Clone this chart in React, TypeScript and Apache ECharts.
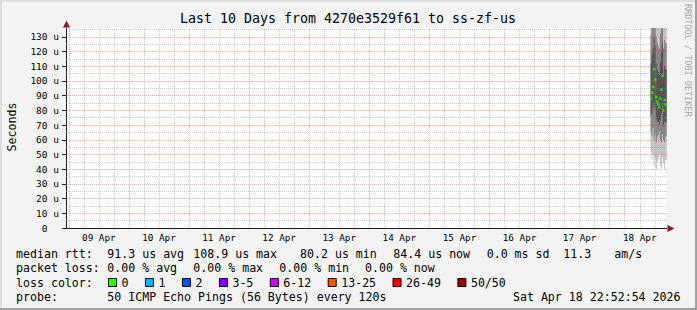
import React, { useEffect, useRef } from 'react';
import * as echarts from 'echarts';

// ---------------- data ----------------
const TITLE = 'Last 10 Days from 4270e3529f61 to ss-zf-us';
const Y_NAME = 'Seconds';
const WATERMARK = 'RRDTOOL / TOBI OETIKER';

// x axis: hours since 08 Apr 22:52:54 (range = last 10 days)
const xRange = [0, 240];
const firstMidnightHour = 1.1183; // 09 Apr 00:00:00
const dayLabels = ['09 Apr', '10 Apr', '11 Apr', '12 Apr', '13 Apr', '14 Apr', '15 Apr', '16 Apr', '17 Apr', '18 Apr'];

// y axis (microseconds)
const yRange = [0, 136];
const yTickValues = [0, 10, 20, 30, 40, 50, 60, 70, 80, 90, 100, 110, 120, 130];
const yMinorValues = [5, 15, 25, 35, 45, 55, 65, 75, 85, 95, 105, 115, 125, 135];

// smoke columns (hours since range start) and ping distribution (us)
const smokeTimes = [233.6, 234.0, 234.45, 234.9, 235.3, 235.7, 236.15, 236.55, 236.95, 237.4, 237.8, 238.2, 238.6, 239.05, 239.45];
const smokeMin = [52, 46, 50, 42, 48, 40, 45, 47, 50, 43, 41, 48, 44, 40, 46];
const smokeP10 = [66, 62, 68, 60, 64, 58, 62, 63, 66, 60, 58, 64, 60, 58, 62];
const smokeP25 = [76, 78, 82, 84, 80, 74, 72, 72, 70, 74, 78, 84, 70, 72, 72];
const smokeP75 = [112, 118, 122, 130, 124, 112, 108, 106, 104, 112, 120, 126, 104, 110, 108];
const smokeP90 = [132, 138, 140, 148, 142, 130, 126, 124, 122, 132, 140, 146, 122, 128, 126];
const smokeMax = [160, 170, 165, 180, 170, 158, 155, 150, 152, 165, 172, 178, 150, 160, 155];
const medianRtt = [88, 92, 96, 108, 101, 89, 86, 84, 82, 88, 94, 103.5, 80, 87, 84];

// legend texts
const rttStats = ['91.3 us avg', '108.9 us max', '80.2 us min', '84.4 us now', '0.0 ms sd', '11.3', 'am/s'];
const lossStats = ['0.00 % avg', '0.00 % max', '0.00 % min', '0.00 % now'];
const lossLabels = ['0', '1', '2', '3-5', '6-12', '13-25', '26-49', '50/50'];
const lossColors = ['#26ff00', '#00b8ff', '#0059ff', '#7e00ff', '#dd00ff', '#ff5500', '#ff0000', '#a10000'];
const probeText = '50 ICMP Echo Pings (56 Bytes) every 120s';
const stampText = 'Sat Apr 18 22:52:54 2026';

// ---------------- layout ----------------
const FONT = 'DejaVu Sans Mono';
const LEG_FS = 11.6;
const CHAR_W = 6.97;
const lineY = [253.5, 268, 282.5, 296.5];
const rttStatX = [107.3, 193.3, 300, 393.3, 486.7, 563.3, 614.3];
const lossStatX = [107.3, 193.3, 279.3, 365];
const RED_GRID = 'rgba(235,60,60,0.42)';
const GRAY_GRID = 'rgba(140,140,140,0.45)';

export default function App() {
  const ref = useRef<HTMLDivElement>(null);

  useEffect(() => {
    if (!ref.current) return;
    const chart = echarts.init(ref.current, null, { renderer: 'svg' });

    const majorX = dayLabels.map((_, i) => firstMidnightHour + 24 * i);
    const noonX = dayLabels.map((_, i) => firstMidnightHour + 12 + 24 * i);
    const minorX: number[] = [];
    for (let h = firstMidnightHour; h < xRange[1]; h += 6) {
      if (Math.round((h - firstMidnightHour) / 6) % 4 !== 0) minorX.push(h);
    }

    const gridLines: any[] = [];
    minorX.forEach((v) => gridLines.push({ xAxis: v, lineStyle: { color: GRAY_GRID, type: [1, 1], width: 1 } }));
    yMinorValues.forEach((v) => gridLines.push({ yAxis: v, lineStyle: { color: GRAY_GRID, type: [1, 1], width: 1 } }));
    majorX.forEach((v) => gridLines.push({ xAxis: v, lineStyle: { color: RED_GRID, type: [1, 1], width: 1 } }));
    yTickValues.filter((v) => v > 0).forEach((v) => gridLines.push({ yAxis: v, lineStyle: { color: RED_GRID, type: [1, 1], width: 1 } }));

    const n = smokeTimes.length;
    const smokeData = smokeTimes.map((t, i) => {
      const left = i === 0 ? t - 0.2 : (smokeTimes[i - 1] + t) / 2;
      const right = i === n - 1 ? t + 0.45 : (t + smokeTimes[i + 1]) / 2;
      return [left, right, smokeMin[i], smokeP10[i], smokeP25[i], smokeP75[i], smokeP90[i], smokeMax[i]];
    });

    const renderSmoke = (params: any, api: any) => {
      const cs = params.coordSys;
      const l = api.value(0), r = api.value(1);
      const bands = [
        [api.value(2), api.value(7), 'rgba(0,0,0,0.24)'],
        [api.value(3), api.value(6), 'rgba(0,0,0,0.32)'],
        [api.value(4), api.value(5), 'rgba(0,0,0,0.38)'],
      ];
      const children: any[] = [];
      bands.forEach(([lo, hi, color]) => {
        const p1 = api.coord([l, hi]);
        const p2 = api.coord([r, lo]);
        const rect = echarts.graphic.clipRectByRect(
          { x: p1[0], y: p1[1], width: p2[0] - p1[0], height: p2[1] - p1[1] },
          { x: cs.x, y: cs.y, width: cs.width, height: cs.height }
        );
        if (rect) children.push({ type: 'rect', shape: rect, style: { fill: color as string } });
      });
      return { type: 'group', children };
    };

    const graphics: any[] = [
      // frame shading
      { type: 'rect', shape: { x: 0, y: 0, width: 697, height: 2 }, style: { fill: '#dcdcdc' }, silent: true },
      { type: 'rect', shape: { x: 0, y: 0, width: 2, height: 310 }, style: { fill: '#dcdcdc' }, silent: true },
      { type: 'rect', shape: { x: 695, y: 0, width: 2, height: 310 }, style: { fill: '#9f9f9f' }, silent: true },
      { type: 'rect', shape: { x: 0, y: 308, width: 697, height: 2 }, style: { fill: '#9f9f9f' }, silent: true },
      // title
      { type: 'text', x: 348, y: 18.5, style: { text: TITLE, font: `13.3px ${FONT}`, fill: '#000', align: 'center', verticalAlign: 'middle' } },
      // y name
      { type: 'text', x: 11.5, y: 127, rotation: Math.PI / 2, style: { text: Y_NAME, font: `${LEG_FS}px ${FONT}`, fill: '#000', align: 'center', verticalAlign: 'middle' } },
      // watermark
      { type: 'text', x: 688, y: 4, rotation: -Math.PI / 2, style: { text: WATERMARK, font: `8.5px ${FONT}`, fill: '#a8a8a8', align: 'left', verticalAlign: 'middle' } },
      // axis arrows
      { type: 'polygon', shape: { points: [[63, 27.5], [70, 27.5], [66.5, 20.5]] }, style: { fill: '#7f1f1f' }, z: 100 },
      { type: 'polygon', shape: { points: [[667.5, 225], [667.5, 232], [674.5, 228.5]] }, style: { fill: '#7f1f1f' }, z: 100 },
      // legend line 1
      { type: 'text', x: 16, y: lineY[0], style: { text: 'median rtt:', font: `${LEG_FS}px ${FONT}`, fill: '#000', verticalAlign: 'middle' } },
      ...rttStats.map((s, i) => ({ type: 'text', x: rttStatX[i], y: lineY[0], style: { text: s, font: `${LEG_FS}px ${FONT}`, fill: '#000', verticalAlign: 'middle' } })),
      // line 2
      { type: 'text', x: 16, y: lineY[1], style: { text: 'packet loss:', font: `${LEG_FS}px ${FONT}`, fill: '#000', verticalAlign: 'middle' } },
      ...lossStats.map((s, i) => ({ type: 'text', x: lossStatX[i], y: lineY[1], style: { text: s, font: `${LEG_FS}px ${FONT}`, fill: '#000', verticalAlign: 'middle' } })),
      // line 3
      { type: 'text', x: 16, y: lineY[2], style: { text: 'loss color:', font: `${LEG_FS}px ${FONT}`, fill: '#000', verticalAlign: 'middle' } },
      // line 4
      { type: 'text', x: 16, y: lineY[3], style: { text: 'probe:', font: `${LEG_FS}px ${FONT}`, fill: '#000', verticalAlign: 'middle' } },
      { type: 'text', x: 107.3, y: lineY[3], style: { text: probeText, font: `${LEG_FS}px ${FONT}`, fill: '#000', verticalAlign: 'middle' } },
      { type: 'text', x: 680.5, y: lineY[3], style: { text: stampText, font: `${LEG_FS}px ${FONT}`, fill: '#000', align: 'right', verticalAlign: 'middle' } },
    ];
    let bx = 108;
    lossLabels.forEach((lab, i) => {
      graphics.push({ type: 'rect', shape: { x: bx + 0.5, y: 278.5, width: 8, height: 8 }, style: { fill: lossColors[i], stroke: '#000', lineWidth: 1 } });
      graphics.push({ type: 'text', x: bx + 13.5, y: lineY[2], style: { text: lab, font: `${LEG_FS}px ${FONT}`, fill: '#000', verticalAlign: 'middle' } });
      bx = bx + 13.5 + lab.length * CHAR_W + 16.5;
    });

    chart.setOption({
      animation: false,
      backgroundColor: '#f3f3f3',
      grid: { left: 66, top: 28, width: 601, height: 200, show: true, backgroundColor: '#ffffff', borderWidth: 0 },
      xAxis: {
        type: 'value', min: xRange[0], max: xRange[1],
        splitLine: { show: false },
        axisLine: { show: true, lineStyle: { color: '#202020', width: 1 } },
        axisTick: { show: false },
        axisLabel: {
          customValues: noonX,
          formatter: (v: number) => {
            const idx = Math.round((v - firstMidnightHour - 12) / 24);
            return dayLabels[idx] ?? '';
          },
          fontFamily: FONT, fontSize: 9.3, color: '#000', margin: 5,
        },
      },
      yAxis: {
        type: 'value', min: yRange[0], max: yRange[1], interval: 10,
        splitLine: { show: false },
        axisLine: { show: true, lineStyle: { color: '#202020', width: 1 } },
        axisTick: { show: true, length: 4, customValues: yTickValues, lineStyle: { color: '#202020' } },
        axisLabel: {
          customValues: yTickValues,
          formatter: (v: number) => (v === 0 ? '0  ' : v % 10 === 0 && v <= 130 ? `${v} u` : ''),
          fontFamily: FONT, fontSize: 9.5, color: '#000', margin: 7,
        },
      },
      graphic: graphics,
      series: [
        {
          type: 'line', data: [], silent: true, z: 1,
          markLine: { silent: true, symbol: ['none', 'none'], label: { show: false }, animation: false, data: gridLines },
        },
        {
          type: 'custom', z: 2, silent: true,
          renderItem: renderSmoke,
          encode: { x: [0, 1], y: [2, 7] },
          data: smokeData,
        },
        {
          type: 'scatter', z: 3, silent: true,
          symbol: 'rect', symbolSize: [2.5, 2.5],
          itemStyle: { color: lossColors[0] },
          data: smokeTimes.map((t, i) => [t, medianRtt[i]]),
        },
      ],
    });

    return () => chart.dispose();
  }, []);

  return <div ref={ref} style={{ position: 'fixed', left: 0, top: 0, width: 697, height: 310 }} />;
}
